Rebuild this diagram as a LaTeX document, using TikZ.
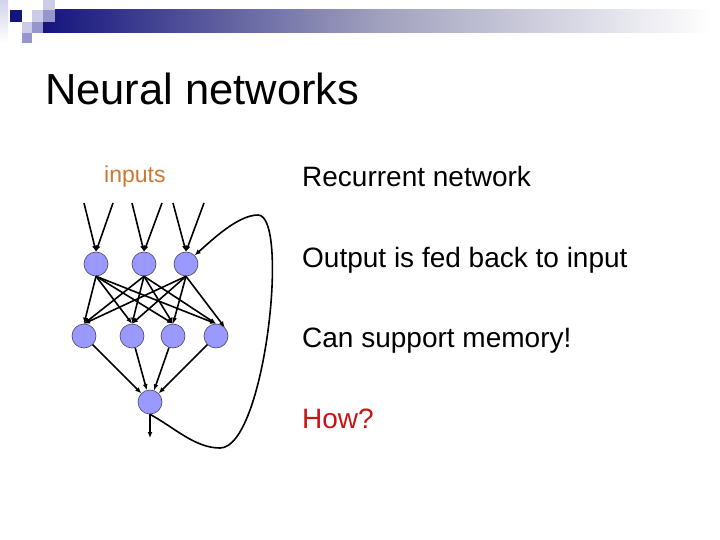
\documentclass[tikz,border=0pt]{standalone}
\usepackage{fontspec}
\setmainfont{Liberation Sans}
\usetikzlibrary{arrows.meta}
\definecolor{navy}{RGB}{20,20,125}
\definecolor{barmid}{RGB}{160,160,190}
\definecolor{sqpale}{RGB}{204,204,232}
\definecolor{sqmed}{RGB}{150,150,205}
\definecolor{stripc}{RGB}{210,210,236}
\definecolor{nodefill}{RGB}{153,153,255}
\definecolor{nodeline}{RGB}{70,70,90}
\definecolor{inputc}{RGB}{205,120,50}
\definecolor{howc}{RGB}{200,20,20}
\tikzset{
  neuron/.style={circle, minimum size=24pt, inner sep=0pt, fill=nodefill, draw=nodeline, line width=0.6pt},
  conn/.style={line width=1.6pt, -{Latex[length=6pt,width=5pt]}},
  title/.style={anchor=base west, inner sep=0pt, font=\fontsize{43.5}{48}\selectfont},
  body/.style={anchor=base west, inner sep=0pt, font=\fontsize{28}{32}\selectfont},
  label/.style={anchor=base west, inner sep=0pt, text=inputc, font=\fontsize{23}{26}\selectfont}
}
\begin{document}
\begin{tikzpicture}[x=1pt,y=-1pt]
\useasboundingbox (0,0) rectangle (720,540);
\fill[white] (0,0) rectangle (720,540);
% header decoration
\shade[top color=stripc, bottom color=white] (0,0) rectangle (8,43);
\shade[left color=navy, right color=white, middle color=barmid] (43,10) rectangle (712,33);
\fill[navy] (10,10) rectangle (22,22);
\fill[sqpale] (32,10) rectangle (43,22);
\fill[sqpale] (43,0) rectangle (55,10);
\fill[sqmed] (43,10) rectangle (55,22);
\fill[sqpale] (22,22) rectangle (32,33);
\fill[sqmed] (32,22) rectangle (43,33);
\fill[sqmed] (22,33) rectangle (32,43);
% texts
\node[title] (ttl) at (45,105) {Neural networks};
\node[label] (inp) at (104,183) {inputs};
\node[body] (b1) at (302,187) {Recurrent network};
\node[body] (b2) at (302,267) {Output is fed back to input};
\node[body] (b3) at (302,347) {Can support memory!};
\node[body, text=howc] (b4) at (302,428) {How?};
% neurons
\node[neuron] (t1) at (96,264) {};
\node[neuron] (t2) at (144,264) {};
\node[neuron] (t3) at (186,264) {};
\node[neuron] (m1) at (84,336) {};
\node[neuron] (m2) at (132,336) {};
\node[neuron] (m3) at (173,336) {};
\node[neuron] (m4) at (216,336) {};
\node[neuron] (o) at (150,402) {};
% input line starts
\coordinate (i1a) at (84,203);
\coordinate (i1b) at (113,203);
\coordinate (i2a) at (132,203);
\coordinate (i2b) at (162,203);
\coordinate (i3a) at (173,203);
\coordinate (i3b) at (204,203);
\coordinate (out) at (150,438);
\foreach \s/\t in {i1a/t1,i1b/t1,i2a/t2,i2b/t2,i3a/t3,i3b/t3}
  \draw[conn] (\s) -- (\t.north);
% top to middle
\foreach \s in {t1,t2,t3}
  \foreach \t in {m1,m2,m3}
    \draw[conn] (\s.south) -- (\t.north);
\draw[conn] (t1.south) -- (m4.north);
\draw[conn] (t2.south) -- (m4.north);
\draw[conn] (t3.south) -- (m4.north east);
% middle to output
\foreach \s in {m1,m2,m3,m4}
  \draw[conn] (\s) -- (o);
% output
\draw[conn] (o.south) -- (out);
% feedback loop
\draw[conn] (o.south) .. controls (175,428) and (195,448) .. (220,448)
  .. controls (265,448) and (290,215) .. (258,215)
  .. controls (238,215) and (212,240) .. (t3.north east);
\end{tikzpicture}
\end{document}
